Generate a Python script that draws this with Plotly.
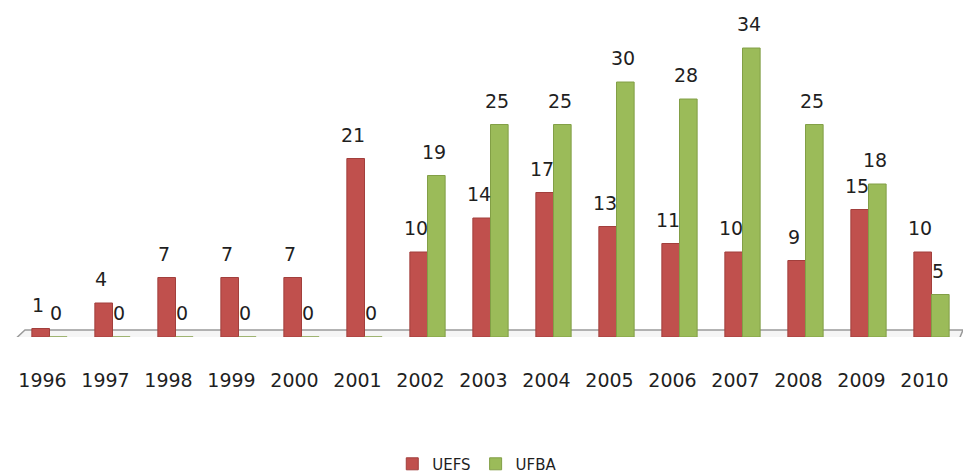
import plotly.graph_objects as go

years = ["1996", "1997", "1998", "1999", "2000", "2001", "2002", "2003",
         "2004", "2005", "2006", "2007", "2008", "2009", "2010"]
uefs = [1, 4, 7, 7, 7, 21, 10, 14, 17, 13, 11, 10, 9, 15, 10]
ufba = [0, 0, 0, 0, 0, 0, 19, 25, 25, 30, 28, 34, 25, 18, 5]

RED = "#C0504D"
GREEN = "#9BBB59"
LABEL_FONT = dict(family="DejaVu Sans", size=19, color="#1f1f1f")

fig = go.Figure()
fig.add_trace(go.Bar(
    x=years, y=uefs, name="UEFS",
    marker=dict(color=RED, line=dict(color="#A23F3C", width=1)),
    hoverinfo="x+y",
))
fig.add_trace(go.Bar(
    x=years, y=ufba, name="UFBA",
    marker=dict(color=GREEN, line=dict(color="#829F46", width=1)),
    hoverinfo="x+y",
))

# value labels above each bar (category index on the category axis, nudged above the 3D cap)
for series, dx in ((uefs, -12), (ufba, 6)):
    for idx, v in enumerate(series):
        fig.add_annotation(
            x=idx, y=v, xref="x", yref="y", text=str(v), showarrow=False,
            xanchor="center", yanchor="bottom", xshift=dx, yshift=11,
            font=LABEL_FONT,
        )

# floor of the 3D-style chart
fig.add_shape(
    type="path", xref="paper", yref="y",
    path="M -0.0063,-0.59 L 0.9947,-0.59 L 1.0,0.82 L 0.0074,0.82 Z",
    line=dict(color="#9A9A9A", width=1.5), fillcolor="#F5F5F5", layer="below",
)

fig.update_layout(
    width=963, height=476,
    margin=dict(l=18, r=0, t=0, b=139, autoexpand=False),
    paper_bgcolor="white", plot_bgcolor="rgba(0,0,0,0)",
    barmode="group", bargap=0.44, bargroupgap=0.0,
    font=dict(family="DejaVu Sans", size=15, color="#1f1f1f"),
    showlegend=True,
    legend=dict(orientation="h", x=0.486, xanchor="center", y=-0.377, yanchor="middle",
                font=dict(family="DejaVu Sans", size=15, color="#1f1f1f"),
                itemwidth=30, traceorder="normal", bgcolor="rgba(0,0,0,0)"),
    xaxis=dict(type="category", showline=False, showgrid=False, zeroline=False, ticks="",
               automargin=False, ticklabelstandoff=30, ticklabelshift=-7,
               tickfont=dict(family="DejaVu Sans", size=19, color="#1f1f1f"),
               range=[-0.5, 14.5]),
    yaxis=dict(visible=False, automargin=False, range=[0, 39.65]),
)

fig.write_html(
    "out.html",
    config={"displayModeBar": False},
    post_script="document.body.style.margin='0';document.body.style.overflow='hidden';",
)
